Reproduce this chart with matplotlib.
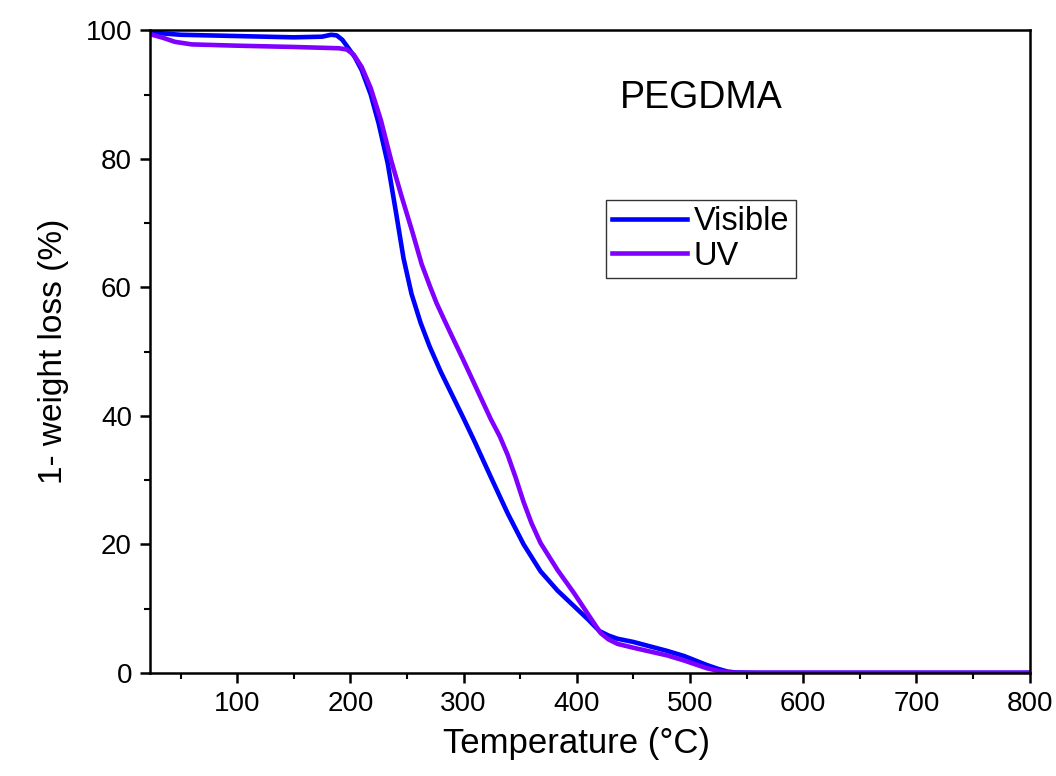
import matplotlib.pyplot as plt
from matplotlib.ticker import MultipleLocator

plt.rcParams['font.family'] = ['Liberation Sans', 'DejaVu Sans']

# temperature (C) and residual mass (%)
temp_visible = [25, 35, 50, 75, 100, 150, 175, 183, 188, 193, 198, 204, 210, 218, 225,
                233, 240, 247, 254, 262, 270, 280, 290, 300, 310, 324, 339, 353, 368,
                383, 398, 410, 420, 428, 436, 450, 465, 480, 495, 505, 515, 525, 533,
                540, 560, 800]
mass_visible = [99.7, 99.5, 99.3, 99.2, 99.1, 98.9, 99.0, 99.3, 99.2, 98.5, 97.3, 95.8,
                93.8, 90.0, 85.5, 79.3, 72.0, 64.5, 59.0, 54.5, 50.8, 46.8, 43.2, 39.6,
                35.9, 30.5, 24.8, 20.0, 15.8, 12.8, 10.3, 8.3, 6.5, 5.8, 5.3, 4.8, 4.1,
                3.4, 2.6, 1.9, 1.2, 0.6, 0.2, 0.05, 0.0, 0.0]

temp_uv = [25, 35, 45, 60, 100, 150, 190, 197, 203, 210, 218, 227, 236, 245, 255, 263,
           270, 276, 282, 290, 300, 310, 324, 332, 339, 346, 353, 360, 368, 383, 398,
           410, 421, 428, 436, 450, 465, 480, 495, 505, 515, 525, 535, 545, 800]
mass_uv = [99.3, 98.8, 98.2, 97.8, 97.6, 97.4, 97.2, 97.0, 96.2, 94.3, 91.0, 86.0, 79.8,
           74.3, 68.5, 63.6, 60.3, 57.6, 55.3, 52.3, 48.6, 44.8, 39.5, 36.8, 33.9, 30.4,
           26.6, 23.3, 20.2, 16.0, 12.3, 9.1, 6.2, 5.2, 4.5, 3.9, 3.3, 2.7, 1.9, 1.3,
           0.7, 0.3, 0.05, 0.0, 0.0]

fig = plt.figure(figsize=(10.56, 7.76), dpi=100)
ax = fig.add_axes([0.142, 0.133, 0.833, 0.828])

ax.plot(temp_visible, mass_visible, color="#0000FF", lw=3.3, label="Visible")
ax.plot(temp_uv, mass_uv, color="#8000FF", lw=3.3, label="UV")

ax.set_xlim(23, 800)
ax.set_ylim(0, 100)
ax.xaxis.set_major_locator(MultipleLocator(100))
ax.xaxis.set_minor_locator(MultipleLocator(50))
ax.yaxis.set_major_locator(MultipleLocator(20))
ax.yaxis.set_minor_locator(MultipleLocator(10))
ax.tick_params(which="major", direction="out", length=7, width=1.8, labelsize=20, pad=6)
ax.tick_params(which="minor", direction="out", length=4, width=1.5)
for spine in ax.spines.values():
    spine.set_linewidth(1.8)

ax.set_xlabel("Temperature (°C)", fontsize=25, labelpad=6)
ax.xaxis.set_label_coords(0.485, -0.085)
ax.set_ylabel("1- weight loss (%)", fontsize=24, labelpad=12)

ax.text(0.627, 0.895, "PEGDMA", transform=ax.transAxes, fontsize=27, ha="center", va="center")

leg = ax.legend(loc="upper left", bbox_to_anchor=(0.518, 0.736), fontsize=23.5,
                frameon=True, fancybox=False, framealpha=1, edgecolor="#333333",
                handlelength=2.3, handletextpad=0.2, borderpad=0.2, labelspacing=0.1,
                borderaxespad=0)
leg.get_frame().set_linewidth(1.0)

fig.savefig("out.png", dpi=100)
